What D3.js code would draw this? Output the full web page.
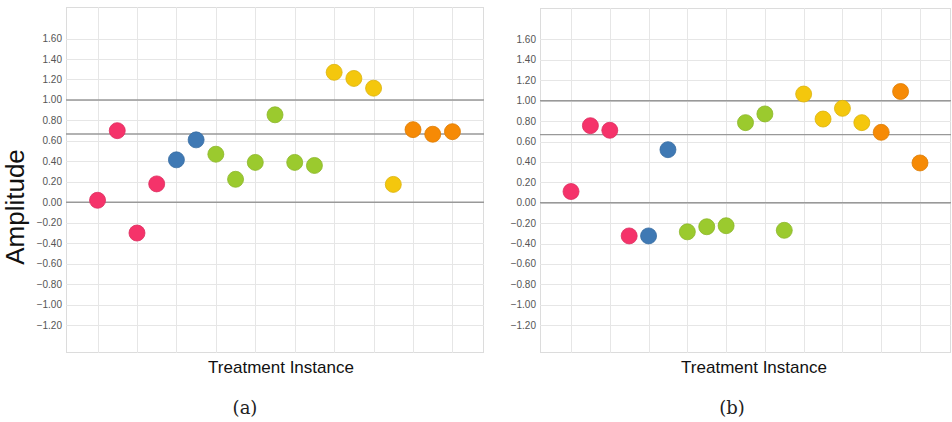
<!DOCTYPE html>
<html>
<head>
<meta charset="utf-8">
<script src="https://cdn.jsdelivr.net/npm/d3@7"></script>
<style>
  body { margin: 0; background: #fff; }
  svg { display: block; }
  .tick-label { font-family: Arial, "Liberation Sans", sans-serif; font-size: 10px; fill: #555; }
  .axis-title { font-family: Arial, "Liberation Sans", sans-serif; fill: #111; }
  .caption { font-family: "DejaVu Serif", "Liberation Serif", serif; font-size: 18px; fill: #222; }
</style>
</head>
<body>
<svg id="chart" width="952" height="422"></svg>
<script>
// point groups, in order along the x axis (same for both panels)
const groups = ["pink","pink","pink","pink","blue","blue","green","green","green","green","green","green",
  "yellow","yellow","yellow","yellow","orange","orange","orange"];
// amplitude values
const valuesA = [0.02, 0.70, -0.30, 0.18, 0.415, 0.61, 0.47, 0.225, 0.39, 0.855, 0.39, 0.36,
  1.27, 1.21, 1.115, 0.175, 0.71, 0.665, 0.69];
const valuesB = [0.11, 0.755, 0.71, -0.325, -0.325, 0.52, -0.285, -0.235, -0.225, 0.785, 0.87, -0.27,
  1.065, 0.82, 0.925, 0.785, 0.69, 1.09, 0.39];
const yTicks = [1.6, 1.4, 1.2, 1.0, 0.8, 0.6, 0.4, 0.2, 0, -0.2, -0.4, -0.6, -0.8, -1.0, -1.2];
const refLines = [1.0, 0.667, 0];
const captions = ["(a)", "(b)"];

const colors = {
  pink: "#f5336a",
  blue: "#3f79b4",
  green: "#9bca2e",
  yellow: "#f4c70d",
  orange: "#f68a05"
};

const svg = d3.select("#chart");

const panels = [
  { values: valuesA, left: 66, right: 484, top: 7, bottom: 353, caption: captions[0], titleX: 281, capX: 245 },
  { values: valuesB, left: 540, right: 951, top: 8, bottom: 353, caption: captions[1], titleX: 754, capX: 732 }
];

panels.forEach(function(p) {
  const x = d3.scaleLinear().domain([-1.6, 19.6]).range([p.left, p.right]);
  const y = d3.scaleLinear().domain([-1.472, 1.908]).range([p.bottom, p.top]);
  const g = svg.append("g");

  // frame
  g.append("rect")
    .attr("x", p.left + 0.5).attr("y", p.top + 0.5)
    .attr("width", p.right - p.left - 1).attr("height", p.bottom - p.top - 1)
    .attr("fill", "none").attr("stroke", "#dcdcdc");

  // vertical grid every other instance
  const xGrid = d3.range(0, groups.length, 2);
  g.selectAll(".vgrid").data(xGrid).enter().append("line")
    .attr("x1", function(d) { return Math.round(x(d)) + 0.5; })
    .attr("x2", function(d) { return Math.round(x(d)) + 0.5; })
    .attr("y1", p.top).attr("y2", p.bottom)
    .attr("stroke", "#e6e6e6");

  // horizontal grid
  g.selectAll(".hgrid").data(yTicks).enter().append("line")
    .attr("x1", p.left).attr("x2", p.right)
    .attr("y1", function(d) { return Math.round(y(d)) + 0.5; })
    .attr("y2", function(d) { return Math.round(y(d)) + 0.5; })
    .attr("stroke", "#e6e6e6");

  // reference lines
  g.selectAll(".ref").data(refLines).enter().append("line")
    .attr("x1", p.left).attr("x2", p.right)
    .attr("y1", function(d) { return y(d); })
    .attr("y2", function(d) { return y(d); })
    .attr("stroke", "#999").attr("stroke-width", 1.4);

  // tick labels
  g.selectAll(".tick-label").data(yTicks).enter().append("text")
    .attr("class", "tick-label")
    .attr("x", p.left - 4)
    .attr("y", function(d) { return y(d); })
    .attr("dy", "0.35em")
    .attr("text-anchor", "end")
    .text(function(d) { return d3.format(".2f")(d); });

  // points
  g.selectAll(".pt").data(p.values).enter().append("circle")
    .attr("cx", function(d, i) { return x(i); })
    .attr("cy", function(d) { return y(d); })
    .attr("r", 8)
    .attr("fill", function(d, i) { return colors[groups[i]]; })
    .attr("stroke", function(d, i) { return d3.color(colors[groups[i]]).darker(0.3); })
    .attr("stroke-width", 0.8);

  g.append("text")
    .attr("class", "axis-title")
    .attr("x", p.titleX).attr("y", 373)
    .attr("text-anchor", "middle")
    .style("font-size", "17px")
    .text("Treatment Instance");

  g.append("text")
    .attr("class", "caption")
    .attr("x", p.capX).attr("y", 414)
    .attr("text-anchor", "middle")
    .text(p.caption);
});

svg.append("text")
  .attr("class", "axis-title")
  .attr("transform", "translate(24,207) rotate(-90)")
  .attr("text-anchor", "middle")
  .style("font-size", "26px")
  .text("Amplitude");
</script>
</body>
</html>
